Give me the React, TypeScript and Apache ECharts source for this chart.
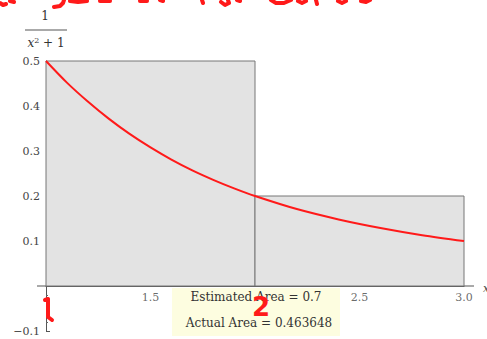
import React, { useEffect, useRef } from "react";
import * as echarts from "echarts";

const rectStarts = [1, 2];
const rectWidths = [1, 1];
const rectHeights = [0.5, 0.2];
const curveX = [1, 1.1, 1.2, 1.3, 1.4, 1.5, 1.6, 1.7, 1.8, 1.9, 2, 2.2, 2.4, 2.6, 2.8, 3];
const curveY = [0.5, 0.452, 0.41, 0.372, 0.338, 0.308, 0.281, 0.257, 0.236, 0.217, 0.2, 0.171, 0.148, 0.129, 0.113, 0.1];
const xTickLabels = [1.5, 2.5, 3.0];
const estimatedArea = "0.7";
const actualArea = "0.463648";

const RED = "#ff1a1a";

const scribbles: number[][][] = [
  [[0, 3], [3, 5], [6, 4]],
  [[10, 1], [14, 2]],
  [[54, 7], [60, 6], [63, 3], [64, 0]],
  [[70, 1], [78, 2], [87, 1]],
  [[100, 1], [110, 1]],
  [[140, 1], [147, 1]],
  [[160, 0], [163, 1]],
  [[202, 0], [203, 3]],
  [[221, 2], [225, 5], [229, 3], [228, 0]],
  [[237, 0], [240, 1]],
  [[271, 0], [276, 3], [284, 3], [291, 0]],
  [[298, 1], [302, 3], [306, 1]],
  [[316, 0], [317, 4]],
  [[338, 1], [342, 3], [346, 1]],
  [[361, 1], [366, 2], [370, 0]],
];

export default function App() {
  const ref = useRef<HTMLDivElement>(null);
  useEffect(() => {
    if (!ref.current) return;
    const chart = echarts.init(ref.current, undefined, { renderer: "svg" });
    const serif = "DejaVu Serif";
    chart.setOption({
      animation: false,
      grid: { left: 46, top: 61, width: 418, height: 270 },
      xAxis: {
        type: "value",
        min: 1,
        max: 3,
        interval: 0.5,
        axisLine: { onZero: true, lineStyle: { color: "#555", width: 1 } },
        axisTick: { show: false },
        splitLine: { show: false },
        axisLabel: { show: false },
      },
      yAxis: {
        type: "value",
        min: -0.1,
        max: 0.5,
        interval: 0.1,
        axisLine: { show: true, lineStyle: { color: "#555", width: 1 } },
        axisTick: { show: true, inside: true, length: 4, lineStyle: { color: "#555" } },
        minorTick: { show: true, splitNumber: 5, length: 2, lineStyle: { color: "#666" } },
        splitLine: { show: false },
        axisLabel: {
          formatter: (v: number) =>
            Math.abs(v) < 1e-9 ? "" : v < 0 ? "\u2212" + Math.abs(v).toFixed(1) : v.toFixed(1),
          color: "#444",
          fontFamily: serif,
          fontSize: 11,
          margin: 6,
        },
      },
      series: [
        {
          type: "custom",
          z: 2,
          data: rectStarts.map((s, i) => [s, rectWidths[i], rectHeights[i]]),
          encode: { x: 0, y: 2 },
          renderItem: (params: any, api: any) => {
            const x0 = api.value(0);
            const w = api.value(1);
            const h = api.value(2);
            const p0 = api.coord([x0, h]);
            const p1 = api.coord([x0 + w, 0]);
            return {
              type: "rect",
              shape: { x: p0[0], y: p0[1], width: p1[0] - p0[0], height: p1[1] - p0[1] },
              style: { fill: "#e3e3e3", stroke: "#777", lineWidth: 1 },
            };
          },
        },
        {
          type: "line",
          z: 3,
          smooth: 0.3,
          symbol: "none",
          data: curveX.map((x, i) => [x, curveY[i]]),
          lineStyle: { color: RED, width: 2 },
        },
        {
          type: "scatter",
          z: 4,
          symbolSize: 0,
          silent: true,
          data: xTickLabels.map((v) => [v, 0]),
          label: {
            show: true,
            position: "bottom",
            distance: 6,
            formatter: (p: any) => p.value[0].toFixed(1),
            color: "#444",
            fontFamily: serif,
            fontSize: 11,
          },
        },
      ],
      graphic: [
        { type: "line", shape: { x1: 37, y1: 286, x2: 46, y2: 286 }, style: { stroke: "#555", lineWidth: 1 } },
        { type: "line", shape: { x1: 464, y1: 286, x2: 474, y2: 286 }, style: { stroke: "#555", lineWidth: 1 } },
        {
          type: "text",
          x: 45,
          y: 16,
          style: { text: "1", fontFamily: serif, fontSize: 12, fill: "#333", align: "center", verticalAlign: "middle" },
        },
        { type: "line", shape: { x1: 25, y1: 30, x2: 67, y2: 30 }, style: { stroke: "#555", lineWidth: 1 } },
        {
          type: "text",
          x: 46,
          y: 43,
          style: {
            text: "{i|x}{s|2}{n| + 1}",
            align: "center",
            verticalAlign: "middle",
            rich: {
              i: { fontFamily: serif, fontStyle: "italic", fontSize: 12, fill: "#333" },
              s: { fontFamily: serif, fontSize: 8, fill: "#333", verticalAlign: "top", padding: [0, 0, 6, 0] },
              n: { fontFamily: serif, fontSize: 12, fill: "#333" },
            },
          },
        },
        {
          type: "text",
          x: 483,
          y: 288,
          style: { text: "x", fontFamily: serif, fontStyle: "italic", fontSize: 11, fill: "#444", verticalAlign: "middle" },
        },
        {
          type: "rect",
          z: 10,
          shape: { x: 172, y: 288, width: 168, height: 48 },
          style: { fill: "#fdfde0" },
        },
        {
          type: "text",
          z: 11,
          x: 256,
          y: 297,
          style: {
            text: "Estimated Area = " + estimatedArea,
            fontFamily: serif,
            fontSize: 12,
            fill: "#333",
            align: "center",
            verticalAlign: "middle",
          },
        },
        {
          type: "text",
          z: 11,
          x: 259,
          y: 323,
          style: {
            text: "Actual Area = " + actualArea,
            fontFamily: serif,
            fontSize: 12,
            fill: "#333",
            align: "center",
            verticalAlign: "middle",
          },
        },
        {
          type: "text",
          z: 12,
          x: 261,
          y: 307,
          style: {
            text: "2",
            fontFamily: "DejaVu Sans",
            fontWeight: "bold",
            fontSize: 26,
            fill: RED,
            align: "center",
            verticalAlign: "middle",
          },
        },
        {
          type: "polyline",
          z: 12,
          shape: { points: [[45, 300], [48, 299], [48, 317], [52, 320]] },
          style: { stroke: RED, lineWidth: 4, lineJoin: "round", lineCap: "round", fill: "none" },
        },
        ...scribbles.map((pts) => ({
          type: "polyline",
          z: 12,
          shape: { points: pts },
          style: { stroke: RED, lineWidth: 4, lineJoin: "round", lineCap: "round", fill: "none" },
        })),
      ],
    });
    return () => chart.dispose();
  }, []);
  return <div ref={ref} style={{ width: 487, height: 339, position: "absolute", left: 0, top: 0 }} />;
}
